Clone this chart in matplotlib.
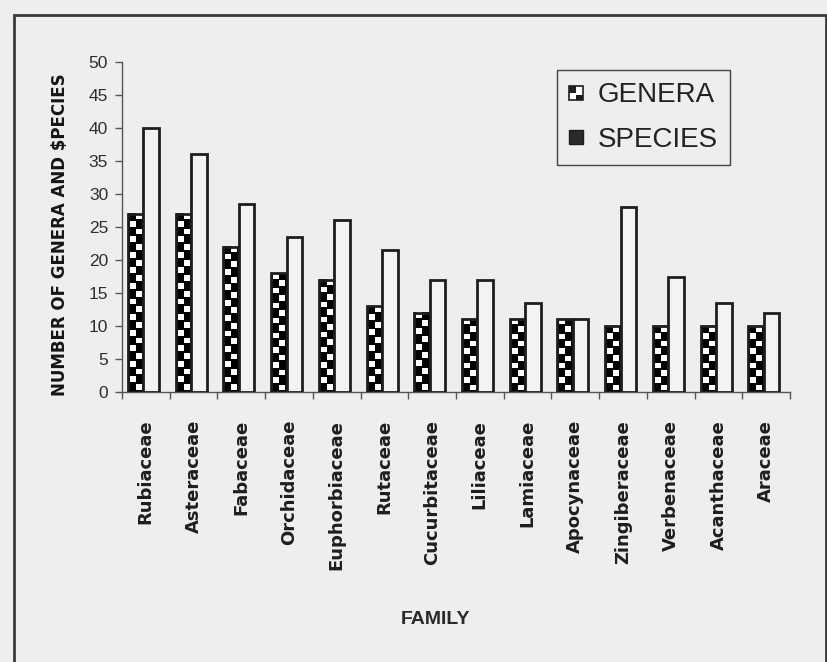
import numpy as np
import matplotlib
matplotlib.use("Agg")
import matplotlib.pyplot as plt
from matplotlib.patches import Rectangle, Patch
from matplotlib.legend_handler import HandlerBase
from matplotlib import font_manager

families = ["Rubiaceae", "Asteraceae", "Fabaceae", "Orchidaceae", "Euphorbiaceae",
            "Rutaceae", "Cucurbitaceae", "Liliaceae", "Lamiaceae", "Apocynaceae",
            "Zingiberaceae", "Verbenaceae", "Acanthaceae", "Araceae"]
genera = [27, 27, 22, 18, 17, 13, 12, 11, 11, 11, 10, 10, 10, 10]
species = [40, 36, 28.5, 23.5, 26, 21.5, 17, 17, 13.5, 11, 28, 17.5, 13.5, 12]
yticks = list(range(0, 51, 5))

BG = "#eeeeee"
INK = "#1e1e1e"
W, H = 828, 662

names = {f.name for f in font_manager.fontManager.ttflist}
if "Liberation Sans Narrow" in names:
    XFAM, XSIZE = ["Liberation Sans Narrow", "DejaVu Sans"], 16.5
else:
    XFAM, XSIZE = ["DejaVu Sans"], 13
ARIAL = ["Liberation Sans", "DejaVu Sans"]

fig = plt.figure(figsize=(W / 100, H / 100), dpi=100, facecolor=BG)

# outer frame (bottom edge lies outside the picture)
fig.add_artist(Rectangle((14 / W, -0.05), (826 - 14) / W, (1 - 15 / H) + 0.05,
                         transform=fig.transFigure, fill=False,
                         edgecolor="#3a3a3a", lw=2.0, clip_on=False))

ax = fig.add_axes([122 / W, 1 - 392 / H, (790 - 122) / W, (392 - 62) / H])
ax.set_facecolor(BG)

n = len(families)
x = np.arange(n)
w = 0.325
off = -0.05
gb = ax.bar(x + off - w / 2, genera, w, facecolor="none", edgecolor=INK,
            lw=2.0, zorder=3)
sb = ax.bar(x + off + w / 2, species, w, facecolor="#f3f3f3", edgecolor=INK,
            lw=2.0, zorder=3)

# checkerboard fill for the genera bars
cell_h = 1.15
sub = 4
for rect in gb:
    x0, ww, h = rect.get_x(), rect.get_width(), rect.get_height()
    nr = max(1, int(round(h / cell_h)))
    arr = np.zeros((nr * sub, 2 * sub))
    for r in range(nr):
        for c in range(2):
            if (r + c) % 2 == 1:
                c0 = c * sub + (1 if c == 0 else 0)
                arr[r * sub + 1:r * sub + sub, c0:c0 + sub - 1] = 1
    ax.imshow(arr, extent=(x0, x0 + ww, 0, h), origin="lower", cmap="gray",
              vmin=0, vmax=1, interpolation="nearest", aspect="auto", zorder=2)

ax.set_xlim(-0.5, n - 0.5)
ax.set_ylim(0, 50)

for s in ["top", "right"]:
    ax.spines[s].set_visible(False)
for s in ["left", "bottom"]:
    ax.spines[s].set_color("#555555")
    ax.spines[s].set_linewidth(1.0)

ax.set_yticks(yticks)
ax.set_yticklabels([str(v) for v in yticks], family=ARIAL, fontsize=12.5,
                   color="#2e2e2e")
ax.tick_params(axis="y", direction="out", length=5, width=1, color="#555555",
               pad=5)

ax.set_xticks(x)
ax.set_xticklabels(families, rotation=90, ha="center", va="top",
                   family=XFAM, fontweight="bold", fontsize=XSIZE, color=INK)
ax.tick_params(axis="x", which="major", length=0, pad=20)
ax.set_xticks(np.arange(n + 1) - 0.5, minor=True)
ax.tick_params(axis="x", which="minor", direction="out", length=5, width=1,
               color="#555555")

fig.text(60 / W, 1 - 235 / H, "NUMBER OF GENERA AND $PECIES", rotation=90,
         ha="center", va="center", family=["DejaVu Sans"], fontweight="bold",
         fontsize=12, color="#151515")
fig.text(436 / W, 1 - 620 / H, "FAMILY", ha="center", va="center",
         family=ARIAL, fontweight="bold", fontsize=14, color="#2a2a2a")


class CheckerHandler(HandlerBase):
    def create_artists(self, legend, orig_handle, xdescent, ydescent, width,
                       height, fontsize, trans):
        s = min(width, height)
        x0 = -xdescent
        y0 = -ydescent + (height - s) / 2
        hs = s / 2
        return [
            Rectangle((x0, y0), s, s, facecolor="white", edgecolor=INK,
                      lw=1.2, transform=trans),
            Rectangle((x0, y0 + hs), hs, hs, facecolor=INK, edgecolor="none",
                      transform=trans),
            Rectangle((x0 + hs, y0), hs, hs * 0.7, facecolor=INK,
                      edgecolor="none", transform=trans),
        ]


class SolidHandler(HandlerBase):
    def create_artists(self, legend, orig_handle, xdescent, ydescent, width,
                       height, fontsize, trans):
        s = min(width, height)
        x0 = -xdescent
        y0 = -ydescent + (height - s) / 2
        return [Rectangle((x0, y0), s, s, facecolor="#2a2a2a", edgecolor=INK,
                          lw=1.0, transform=trans)]


hg = Patch(label="GENERA")
hs_ = Patch(label="SPECIES")
leg = ax.legend([hg, hs_], ["GENERA", "SPECIES"],
                handler_map={hg: CheckerHandler(), hs_: SolidHandler()},
                loc="upper left", bbox_to_anchor=(557 / W, 1 - 70 / H),
                bbox_transform=fig.transFigure, borderaxespad=0,
                prop={"family": ARIAL, "size": 20}, frameon=True,
                fancybox=False, edgecolor="#444444", facecolor=BG,
                framealpha=1, handlelength=0.5, handleheight=0.5,
                handletextpad=0.5, labelspacing=0.65, borderpad=0.45)
leg.get_frame().set_linewidth(1.0)
for t in leg.get_texts():
    t.set_color("#222222")

fig.savefig("out.png", dpi=100, facecolor=BG)
